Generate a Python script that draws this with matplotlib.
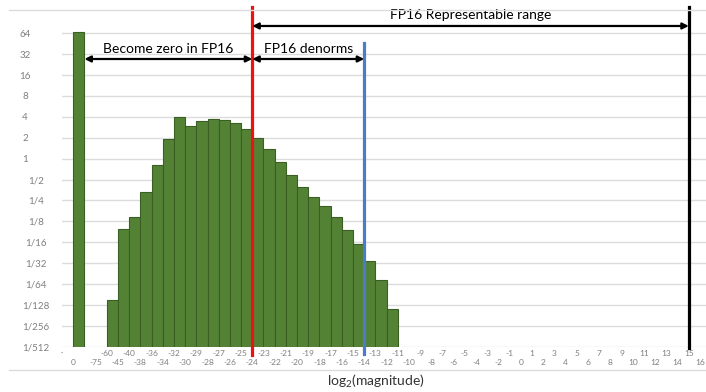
import matplotlib
matplotlib.use('Agg')
import matplotlib.pyplot as plt
import numpy as np
from matplotlib.lines import Line2D
from matplotlib.ticker import NullLocator

# ---------------- data ----------------
x_labels = ["·", "0", "", "-75", "-60", "-45", "-40", "-38", "-36", "-34",
            "-32", "-30", "-29", "-28", "-27", "-26", "-25", "-24", "-23", "-22",
            "-21", "-20", "-19", "-18", "-17", "-16", "-15", "-14", "-13", "-12",
            "-11", "-10", "-9", "-8", "-7", "-6", "-5", "-4", "-3", "-2",
            "-1", "0", "1", "2", "3", "4", "5", "6", "7", "8",
            "9", "10", "11", "12", "13", "14", "15", "16"]

counts = [0, 66, 0, 0, 0.0092, 0.096, 0.145, 0.33, 0.81, 1.93,
          4.0, 2.93, 3.46, 3.73, 3.66, 3.25, 2.69, 2.01, 1.39, 0.90,
          0.58, 0.39, 0.28, 0.206, 0.143, 0.093, 0.058, 0.034, 0.0177, 0.0069,
          0, 0, 0, 0, 0, 0, 0, 0, 0, 0,
          0, 0, 0, 0, 0, 0, 0, 0, 0, 0,
          0, 0, 0, 0, 0, 0, 0, 0]

y_ticks = [2.0**-9, 2.0**-8, 2.0**-7, 2.0**-6, 2.0**-5, 2.0**-4, 2.0**-3, 2.0**-2,
           2.0**-1, 1, 2, 4, 8, 16, 32, 64]
y_labels = ["1/512", "1/256", "1/128", "1/64", "1/32", "1/16", "1/8", "1/4",
            "1/2", "1", "2", "4", "8", "16", "32", "64"]

zero_limit_label = "-24"     # red line
denorm_limit_label = "-14"   # blue line
max_label = "15"             # black line

# ---------------- style ----------------
plt.rcParams['font.family'] = ['Lato', 'DejaVu Sans']
plt.rcParams['mathtext.default'] = 'regular'

W, H = 706, 392
fig = plt.figure(figsize=(W / 100, H / 100), dpi=100)
ax = fig.add_axes([62 / W, (H - 346.7) / H, (705.6 - 62) / W, (346.7 - 12.4) / H])

pos = np.arange(len(x_labels))
c = np.array(counts, dtype=float)
mask = c > 0
ax.bar(pos[mask], c[mask], width=1.0, align='edge', color='#548235',
       edgecolor='#3a5e24', linewidth=0.8, zorder=2)

ax.set_yscale('log', base=2)
ax.set_ylim(2.0**-9, 2.0**7)
ax.set_xlim(0, 57.5)
ax.set_yticks(y_ticks, y_labels)
ax.yaxis.set_minor_locator(NullLocator())
ax.set_axisbelow(True)
ax.yaxis.grid(True, color='#dcdcdc', lw=1)
for s in ax.spines.values():
    s.set_visible(False)

# x labels in two staggered rows
ax.set_xticks(pos[::2], x_labels[::2])
ax.set_xticks(pos[1::2], x_labels[1::2], minor=True)
ax.tick_params(axis='x', which='major', pad=2.5, labelsize=6, labelcolor='#7f7f7f', length=0)
ax.tick_params(axis='x', which='minor', pad=8.5, labelsize=6, labelcolor='#7f7f7f', length=0)
ax.tick_params(axis='y', which='both', labelsize=7, labelcolor='#7f7f7f', length=0)
for t, lab in zip(ax.yaxis.get_major_ticks(), y_labels):
    t.set_pad(18.7 if '/' in lab else 26.6)
    t.label1.set_horizontalalignment('center')

# vertical marker lines
xr = x_labels.index(zero_limit_label)
xb = x_labels.index(denorm_limit_label)
xk = x_labels.index(max_label)
ax.plot([xr, xr], [2.0**-9.4, 2.0**7.26], color='#ee1111', lw=2.3, clip_on=False, zorder=4)
ax.plot([xb, xb], [2.0**-9.35, 2.0**5.54], color='#4a7cc9', lw=2.3, clip_on=False, zorder=4)
ax.plot([xk, xk], [2.0**-9.06, 2.0**7.26], color='black', lw=2.3, clip_on=False, zorder=4)

# arrows
ap = dict(arrowstyle='<|-|>', color='black', lw=1.6, mutation_scale=9, shrinkA=0, shrinkB=0)
y_low_arrow = 2.0**4.77
y_top_arrow = 2.0**6.35
ax.annotate('', xy=(2, y_low_arrow), xytext=(xr, y_low_arrow), arrowprops=ap,
            annotation_clip=False, zorder=5)
ax.annotate('', xy=(xr, y_low_arrow), xytext=(xb, y_low_arrow), arrowprops=ap,
            annotation_clip=False, zorder=5)
ax.annotate('', xy=(xr, y_top_arrow), xytext=(xk, y_top_arrow), arrowprops=ap,
            annotation_clip=False, zorder=5)

ax.text((2 + xr) / 2, 2.0**5.25, 'Become zero in FP16', ha='center', va='center',
        fontsize=10, color='black')
ax.text((xr + xb) / 2, 2.0**5.25, 'FP16 denorms', ha='center', va='center',
        fontsize=10, color='black')
ax.text((xr + xk) / 2, 2.0**6.87, 'FP16 Representable range', ha='center', va='center',
        fontsize=10, color='black')

fig.text(376 / W, 1 - 381 / H, 'log$_2$(magnitude)', ha='center', va='center',
         fontsize=10, color='#333333')

# chart-area border lines
for yy in (10, 370):
    fig.add_artist(Line2D([9 / W, 1.0], [1 - yy / H] * 2, color='#dcdcdc', lw=1,
                          transform=fig.transFigure))

fig.savefig('out.png', dpi=100)
